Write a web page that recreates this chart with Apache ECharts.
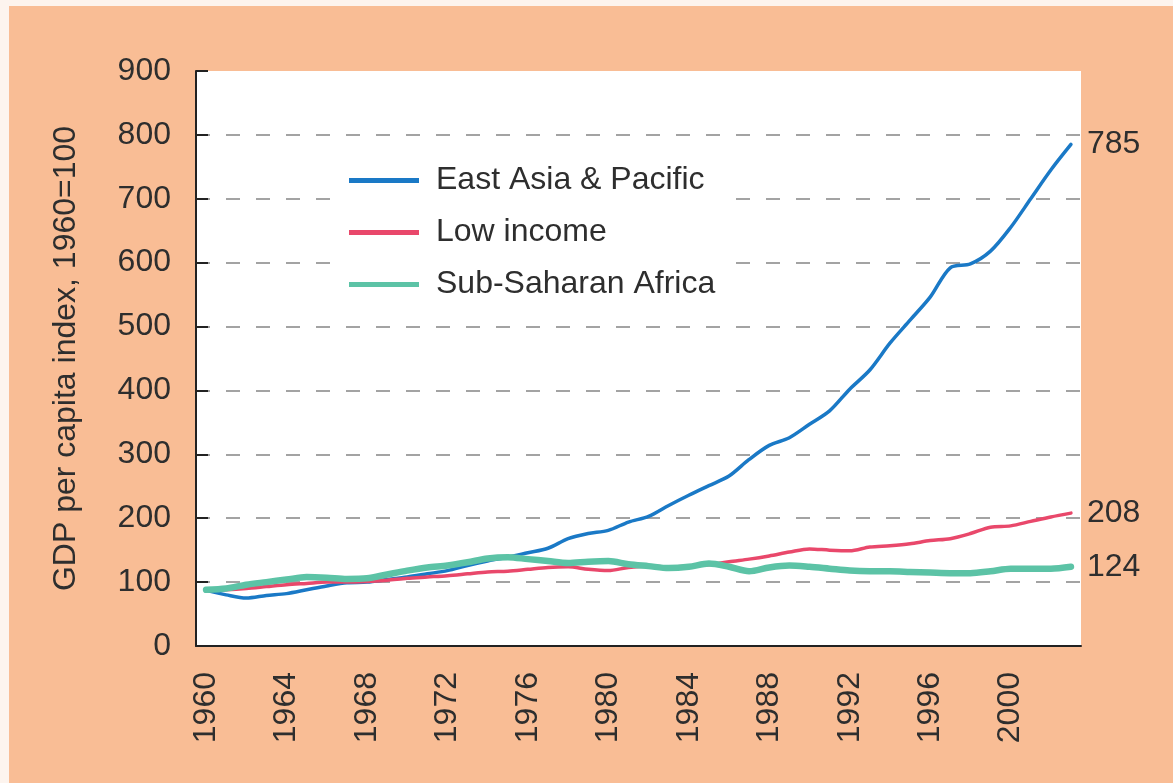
<!DOCTYPE html>
<html>
<head>
<meta charset="utf-8">
<script src="https://cdn.jsdelivr.net/npm/echarts@6/dist/echarts.min.js"></script>
<style>
html, body { margin: 0; padding: 0; background: #fdf4ee; }
#chart { position: absolute; left: 9px; top: 6px; width: 1164px; height: 777px; }
</style>
</head>
<body>
<div id="chart"></div>
<script>
// GDP per capita index, 1960=100
var years = ["1960","1961","1962","1963","1964","1965","1966","1967","1968","1969",
  "1970","1971","1972","1973","1974","1975","1976","1977","1978","1979",
  "1980","1981","1982","1983","1984","1985","1986","1987","1988","1989",
  "1990","1991","1992","1993","1994","1995","1996","1997","1998","1999",
  "2000","2001","2002","2003"];

var eastAsia = [87, 80, 75, 79, 82, 88, 94, 99, 100, 104,
  108, 113, 118, 126, 133, 139, 146, 153, 168, 176,
  181, 194, 203, 220, 236, 251, 266, 292, 314, 326,
  347, 368, 402, 432, 474, 510, 546, 592, 598, 618,
  655, 700, 745, 785];

var lowIncome = [87, 88, 90, 93, 96, 98, 100, 100, 101, 103,
  106, 108, 110, 113, 116, 117, 120, 123, 124, 120,
  118, 123, 125, 124, 125, 127, 132, 136, 141, 147,
  152, 150, 149, 155, 157, 160, 165, 168, 176, 186,
  188, 195, 202, 208];

var subSahara = [88, 90, 96, 100, 104, 108, 107, 105, 106, 112,
  118, 123, 126, 131, 137, 139, 136, 133, 130, 132,
  133, 128, 125, 122, 124, 129, 124, 117, 123, 126,
  124, 121, 118, 117, 117, 116, 115, 114, 114, 117,
  121, 121, 121, 124];

var font = "'Liberation Sans', Arial, Helvetica, sans-serif";
var txt = "#2e2e2e";

var myChart = echarts.init(document.getElementById("chart"));

function lineSeries(name, data, color, width) {
  return {
    name: name,
    type: "line",
    data: data,
    smooth: 0.3,
    showSymbol: false,
    symbol: "none",
    lineStyle: { color: color, width: width, cap: "round" },
    itemStyle: { color: color },
    endLabel: {
      show: true,
      formatter: function (p) { return p.value; },
      distance: 16,
      color: txt,
      fontSize: 32,
      fontFamily: font
    },
    emphasis: { disabled: true }
  };
}

var option = {
  backgroundColor: "#f9bd95",
  animation: false,
  grid: {
    left: 187, right: 92, top: 65, bottom: 137,
    show: true, backgroundColor: "#ffffff", borderWidth: 0,
    containLabel: false, outerBoundsMode: "none"
  },
  legend: {
    orient: "vertical",
    left: 326, top: 144,
    padding: [14, 20, 14, 14],
    backgroundColor: "#ffffff",
    icon: "rect",
    itemWidth: 70, itemHeight: 5, itemGap: 19,
    textStyle: { color: txt, fontSize: 32, fontFamily: font, lineHeight: 33, padding: [0, 0, 0, 12] },
    data: ["East Asia & Pacific", "Low income", "Sub-Saharan Africa"]
  },
  xAxis: {
    type: "category",
    data: years,
    boundaryGap: true,
    axisLine: { lineStyle: { color: "#222", width: 2 } },
    axisTick: { interval: 0, length: 10, lineStyle: { color: "#222", width: 2 } },
    axisLabel: { interval: 3, rotate: 90, margin: 26, color: txt, fontSize: 32, fontFamily: font },
    splitLine: { show: false }
  },
  yAxis: {
    type: "value",
    min: 0, max: 900, interval: 100,
    name: "GDP per capita index, 1960=100",
    nameLocation: "middle",
    nameRotate: 90,
    nameGap: 114,
    nameTextStyle: { color: txt, fontSize: 32, fontFamily: font },
    axisLine: { show: true, lineStyle: { color: "#222", width: 2 } },
    axisTick: { show: true, inside: true, length: 12, lineStyle: { color: "#222", width: 2 } },
    axisLabel: { margin: 25, color: txt, fontSize: 32, fontFamily: font },
    splitLine: {
      show: true, showMinLine: false, showMaxLine: false,
      lineStyle: { color: "#a3a3a3", width: 2, type: [14, 16] }
    }
  },
  series: [
    lineSeries("East Asia & Pacific", eastAsia, "#1a79c6", 3.5),
    lineSeries("Low income", lowIncome, "#e9486b", 3.5),
    lineSeries("Sub-Saharan Africa", subSahara, "#5cc3a6", 6.5)
  ]
};

myChart.setOption(option);
</script>
</body>
</html>
